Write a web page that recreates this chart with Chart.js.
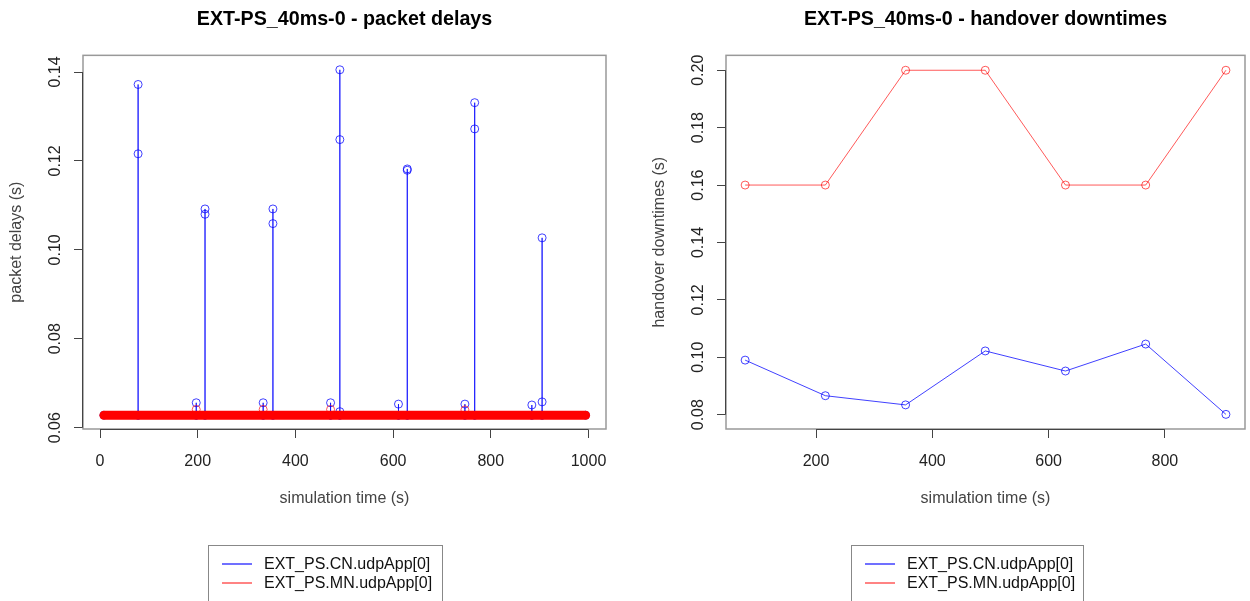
<!DOCTYPE html>
<html lang="en">
<head>
<meta charset="UTF-8">
<title>EXT-PS_40ms-0</title>
<script src="https://cdn.jsdelivr.net/npm/chart.js"></script>
<style>
  body { margin: 0; background: #fff; }
  #wrap { display: flex; width: 1250px; height: 601px; overflow: hidden; }
  canvas { display: block; }
</style>
</head>
<body>
<div id="wrap">
  <canvas id="delayChart" width="625" height="601"></canvas>
  <canvas id="downtimeChart" width="625" height="601"></canvas>
</div>
<script>
  const seriesNames = ['EXT_PS.CN.udpApp[0]', 'EXT_PS.MN.udpApp[0]'];

  // packet delays of CN: flat ~0.0628 s, spikes around each handover
  const cnTime = [8, 78, 78, 78, 78, 197, 197, 197, 215, 215, 215, 215,
    334, 334, 334, 354, 354, 354, 354, 472, 472, 472, 491, 491, 491, 491, 491,
    611, 611, 611, 629, 629, 629, 629, 747, 747, 747, 767, 767, 767, 767,
    884, 884, 884, 905, 905, 905, 905, 994];
  const cnDelay = [0.0628, 0.0628, 0.1372, 0.1216, 0.0628, 0.0628, 0.0656, 0.0628,
    0.0628, 0.1092, 0.1080, 0.0628, 0.0628, 0.0656, 0.0628, 0.0628, 0.1092, 0.1059, 0.0628,
    0.0628, 0.0656, 0.0628, 0.0628, 0.1405, 0.1248, 0.0636, 0.0628,
    0.0628, 0.0653, 0.0628, 0.0628, 0.1182, 0.1179, 0.0628, 0.0628, 0.0653, 0.0628,
    0.0628, 0.1331, 0.1272, 0.0628, 0.0628, 0.0651, 0.0628, 0.0628, 0.1027, 0.0658, 0.0628,
    0.0628];

  // MN packets: one dense band at the base delay, plus a few slightly late ones
  const mnBandTime = [8, 994];
  const mnBandDelay = [0.0628, 0.0628];
  const mnBumpTime = [197, 334, 472, 747];
  const mnBumpDelay = [0.0641, 0.0641, 0.0641, 0.0640];

  // handover downtimes
  const hoTime = [78, 216, 354, 491, 629, 767, 905];
  const cnDowntime = [0.0990, 0.0866, 0.0834, 0.1022, 0.0952, 0.1046, 0.0801];
  const mnDowntime = [0.16, 0.16, 0.20, 0.20, 0.16, 0.16, 0.20];

  const delayTicks = [0.06, 0.08, 0.10, 0.12, 0.14];
  const timeTicks = [0, 200, 400, 600, 800, 1000];
  const downtimeTicks = [0.08, 0.10, 0.12, 0.14, 0.16, 0.18, 0.20];
  const hoTimeTicks = [200, 400, 600, 800];

  const blue = 'rgba(0, 0, 255, 0.75)';
  const red = 'rgba(255, 0, 0, 0.65)';
  const FONT = '"Liberation Sans", Arial, Helvetica, sans-serif';

  Chart.defaults.font.family = FONT;
  Chart.defaults.font.size = 16;
  Chart.defaults.color = '#222';

  function toPoints(xs, ys) {
    return xs.map((x, i) => ({ x: x, y: ys[i] }));
  }

  // grey box round the plot, darker axis line between first and last tick
  const rFrame = {
    id: 'rFrame',
    afterDatasetsDraw(chart) {
      const { ctx, chartArea: a, scales: { x, y } } = chart;
      ctx.save();
      ctx.strokeStyle = '#999';
      ctx.lineWidth = 1.5;
      ctx.strokeRect(a.left, a.top, a.right - a.left, a.bottom - a.top);
      ctx.strokeStyle = '#444';
      ctx.lineWidth = 1;
      const xt = x.ticks, yt = y.ticks;
      ctx.beginPath();
      ctx.moveTo(x.getPixelForValue(xt[0].value), a.bottom + 0.5);
      ctx.lineTo(x.getPixelForValue(xt[xt.length - 1].value), a.bottom + 0.5);
      ctx.moveTo(a.left - 0.5, y.getPixelForValue(yt[0].value));
      ctx.lineTo(a.left - 0.5, y.getPixelForValue(yt[yt.length - 1].value));
      ctx.stroke();
      ctx.restore();
    }
  };

  // boxed legend under the plot, like R's legend()
  const boxLegend = {
    id: 'boxLegend',
    afterDraw(chart, args, opts) {
      const ctx = chart.ctx;
      ctx.save();
      ctx.strokeStyle = '#888';
      ctx.lineWidth = 1;
      ctx.strokeRect(opts.left + 0.5, opts.top + 0.5, opts.width, 80);
      ctx.font = '16px ' + FONT;
      ctx.textBaseline = 'middle';
      ctx.fillStyle = '#111';
      opts.items.forEach((it, i) => {
        const yy = opts.top + 19 + i * 19;
        ctx.strokeStyle = it.color;
        ctx.lineWidth = 1.5;
        ctx.beginPath();
        ctx.moveTo(opts.left + 14, yy);
        ctx.lineTo(opts.left + 44, yy);
        ctx.stroke();
        ctx.fillText(it.text, opts.left + 56, yy + 0.5);
      });
      ctx.restore();
    }
  };

  function axisX(min, max, tickVals) {
    return {
      type: 'linear', min: min, max: max,
      afterBuildTicks: s => { s.ticks = tickVals.map(v => ({ value: v })); },
      afterFit: s => { s.height = 80; },
      ticks: { padding: 14, color: '#222', callback: v => String(v) },
      grid: { drawOnChartArea: false, drawTicks: true, tickLength: 9, color: '#444' },
      border: { display: false },
      title: { display: true, text: 'simulation time (s)', color: '#444', padding: { top: 0, bottom: 0.5 } }
    };
  }

  function axisY(min, max, tickVals, label, width, titlePad) {
    return {
      type: 'linear', min: min, max: max,
      afterBuildTicks: s => { s.ticks = tickVals.map(v => ({ value: v })); },
      afterFit: s => { s.width = width; },
      ticks: { minRotation: 90, maxRotation: 90, crossAlign: 'center', padding: 3, color: '#222',
        callback: v => v.toFixed(2) },
      grid: { drawOnChartArea: false, drawTicks: true, tickLength: 9, color: '#444' },
      border: { display: false },
      title: { display: true, text: label, color: '#444', padding: { top: titlePad, bottom: 0 } }
    };
  }

  function baseOptions(title, padRight) {
    return {
      responsive: false,
      animation: false,
      events: [],
      devicePixelRatio: 1,
      layout: { padding: { left: 0, right: padRight, top: 0, bottom: 92 } },
      plugins: {
        legend: { display: false },
        tooltip: { enabled: false },
        title: {
          display: true, text: title, fullSize: false, color: '#000',
          font: { size: 19.7, weight: 'bold' },
          padding: { top: 7.3, bottom: 24.4 }
        }
      }
    };
  }

  const legendItems = [
    { text: seriesNames[0], color: blue },
    { text: seriesNames[1], color: red }
  ];

  // packet delays
  const delayOpts = baseOptions('EXT-PS_40ms-0 - packet delays', 19);
  delayOpts.scales = {
    x: axisX(-34.8, 1035.8, timeTicks),
    y: axisY(0.0597, 0.14375, delayTicks, 'packet delays (s)', 83, 7.4)
  };
  delayOpts.plugins.boxLegend = { left: 208, top: 545, width: 234, items: legendItems };

  new Chart(document.getElementById('delayChart'), {
    type: 'line',
    data: {
      datasets: [
        {
          label: seriesNames[1],
          data: toPoints(mnBandTime, mnBandDelay),
          borderColor: '#ff0000', borderWidth: 9, borderCapStyle: 'round',
          pointRadius: 0
        },
        {
          label: seriesNames[1],
          data: toPoints(mnBumpTime, mnBumpDelay),
          showLine: false,
          pointRadius: 4, pointBorderWidth: 1,
          pointBorderColor: red, pointBackgroundColor: 'rgba(0,0,0,0)'
        },
        {
          label: seriesNames[0],
          data: toPoints(cnTime, cnDelay),
          borderColor: blue, borderWidth: 1, tension: 0,
          pointRadius: 4, pointBorderWidth: 1,
          pointBorderColor: blue, pointBackgroundColor: 'rgba(0,0,0,0)'
        }
      ]
    },
    options: delayOpts,
    plugins: [rFrame, boxLegend]
  });

  // handover downtimes
  const downOpts = baseOptions('EXT-PS_40ms-0 - handover downtimes', 1);
  downOpts.scales = {
    x: axisX(45.1, 937.8, hoTimeTicks),
    y: axisY(0.0750, 0.2052, downtimeTicks, 'handover downtimes (s)', 101, 25.4)
  };
  downOpts.plugins.boxLegend = { left: 226, top: 545, width: 232, items: legendItems };

  new Chart(document.getElementById('downtimeChart'), {
    type: 'line',
    data: {
      datasets: [
        {
          label: seriesNames[0],
          data: toPoints(hoTime, cnDowntime),
          borderColor: blue, borderWidth: 1, tension: 0,
          pointRadius: 4, pointBorderWidth: 1,
          pointBorderColor: blue, pointBackgroundColor: 'rgba(0,0,0,0)'
        },
        {
          label: seriesNames[1],
          data: toPoints(hoTime, mnDowntime),
          borderColor: red, borderWidth: 1, tension: 0,
          pointRadius: 4, pointBorderWidth: 1,
          pointBorderColor: red, pointBackgroundColor: 'rgba(0,0,0,0)'
        }
      ]
    },
    options: downOpts,
    plugins: [rFrame, boxLegend]
  });
</script>
</body>
</html>
